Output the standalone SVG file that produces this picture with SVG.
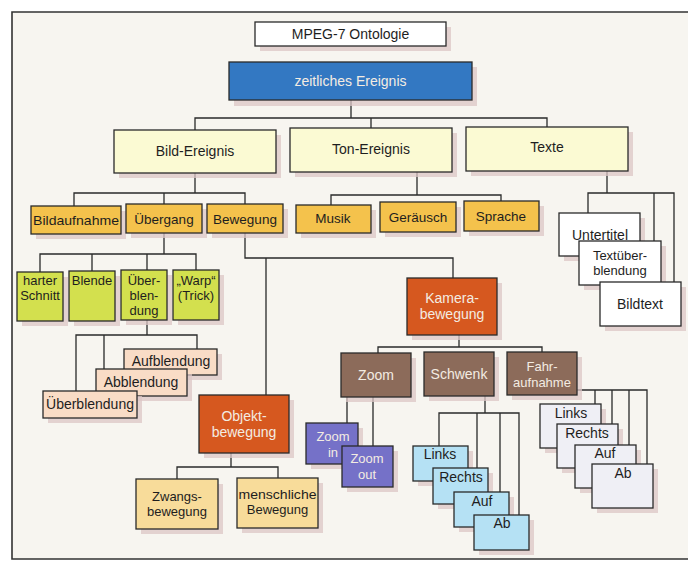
<svg xmlns="http://www.w3.org/2000/svg" width="688" height="561" viewBox="0 0 688 561">
  <style>
    text { font-family: "Liberation Sans", Arial, sans-serif; font-size: 14px; fill: #1e1e1e; text-anchor: middle; dominant-baseline: central; }
    .sm { font-size: 13.5px; }
    .ml { font-size: 13px; }
    .lt { fill: #f3ece2; }
    .box { stroke: #2a2a2a; stroke-width: 1.3; }
    .sh { fill: #dcc6c6; opacity: 0.75; }
    .white { fill: #ffffff; }
    .blue { fill: #3378c2; }
    .cream { fill: #fbfad3; }
    .orange { fill: #f4c24c; }
    .green { fill: #d3e04e; }
    .peach { fill: #f9dcc6; }
    .rust { fill: #d6581f; }
    .brown { fill: #8c6b5a; }
    .violet { fill: #7571c8; }
    .sky { fill: #b5e1f4; }
    .pale { fill: #efeff5; }
    .sand { fill: #f8dc9a; }
    #connectors path { fill: none; stroke: #2a2a2a; stroke-width: 1.3; }
  </style>

  <!-- page and frame -->
  <rect x="0" y="0" width="688" height="561" fill="#ffffff"/>
  <rect x="12" y="12" width="690" height="547" fill="#f7f5f0"/>
  <path d="M688,12 H12 V559 H688" fill="none" stroke="#333" stroke-width="1.6"/>

  <!-- connectors -->
  <g id="connectors">
    <path d="M351,100 V118 M195,130 V118 H547 V127 M371,118 V128"/>
    <path d="M195,173 V193 M74,206 V193 H245 V204 M164,193 V204"/>
    <path d="M417,172 V195 M331,205 V195 H501 V201"/>
    <path d="M607,171 V193 M588,213 V193 H674 V282 M654,193 V241"/>
    <path d="M164,233 V254 M40,272 V254 H196 V270 M92,254 V271 M147,254 V270"/>
    <path d="M147,320 V335 M76,391 V335 H197 V349 M104,335 V369"/>
    <path d="M245,233 V258 H453 V278 M266,258 V395"/>
    <path d="M231,453 V467 M177,479 V467 H278 V478"/>
    <path d="M459,335 V347 M378,353 V347 H542 V352"/>
    <path d="M347,397 V423 M373,397 V446"/>
    <path d="M485,396 V413 M439,446 V413 H519 V515 M477,413 V468 M500,413 V492"/>
    <path d="M570,390 H647 V464 M595,390 V404 M612,390 V424 M629,390 V445"/>
  </g>

  <g id="mpeg7">
    <rect class="sh" x="260" y="27" width="191" height="24"/>
    <rect class="box white" x="255" y="22" width="191" height="24"/>
    <text x="350.5" y="34">MPEG-7 Ontologie</text>
  </g>

  <g id="zeitliches-ereignis">
    <rect class="sh" x="234" y="67" width="243" height="39"/>
    <rect class="box blue" x="229" y="62" width="243" height="38"/>
    <text class="lt" x="350.5" y="81">zeitliches Ereignis</text>
  </g>

  <g id="bild-ereignis">
    <rect class="sh" x="119" y="135" width="162" height="43"/>
    <rect class="box cream" x="114" y="130" width="162" height="43"/>
    <text x="195" y="151">Bild-Ereignis</text>
  </g>
  <g id="ton-ereignis">
    <rect class="sh" x="295" y="133" width="162" height="44"/>
    <rect class="box cream" x="290" y="128" width="162" height="44"/>
    <text x="371" y="149">Ton-Ereignis</text>
  </g>
  <g id="texte">
    <rect class="sh" x="471" y="132" width="162" height="44"/>
    <rect class="box cream" x="466" y="127" width="162" height="44"/>
    <text x="547" y="147">Texte</text>
  </g>

  <g id="bildaufnahme">
    <rect class="sh" x="36" y="211" width="90" height="28"/>
    <rect class="box orange" x="31" y="206" width="90" height="28"/>
    <text class="sm" x="76" y="220" textLength="86" lengthAdjust="spacingAndGlyphs">Bildaufnahme</text>
  </g>
  <g id="uebergang">
    <rect class="sh" x="131" y="209" width="76" height="29"/>
    <rect class="box orange" x="126" y="204" width="76" height="29"/>
    <text class="sm" x="164" y="219">Übergang</text>
  </g>
  <g id="bewegung">
    <rect class="sh" x="212" y="209" width="76" height="29"/>
    <rect class="box orange" x="207" y="204" width="76" height="29"/>
    <text class="sm" x="245" y="219">Bewegung</text>
  </g>
  <g id="musik">
    <rect class="sh" x="301" y="210" width="75" height="28"/>
    <rect class="box orange" x="296" y="205" width="75" height="28"/>
    <text class="sm" x="333" y="218">Musik</text>
  </g>
  <g id="geraeusch">
    <rect class="sh" x="385" y="207" width="76" height="30"/>
    <rect class="box orange" x="380" y="202" width="76" height="30"/>
    <text class="sm" x="418" y="217">Geräusch</text>
  </g>
  <g id="sprache">
    <rect class="sh" x="469" y="206" width="75" height="30"/>
    <rect class="box orange" x="464" y="201" width="75" height="30"/>
    <text class="sm" x="501" y="216">Sprache</text>
  </g>

  <g id="untertitel">
    <rect class="sh" x="564" y="218" width="81" height="43"/>
    <rect class="box white" x="559" y="213" width="81" height="43"/>
    <text x="600" y="235">Untertitel</text>
  </g>
  <g id="textueberblendung">
    <rect class="sh" x="584" y="246" width="82" height="44"/>
    <rect class="box white" x="579" y="241" width="82" height="44"/>
    <text class="ml" x="620" y="255">Textüber-</text>
    <text class="ml" x="620" y="270">blendung</text>
  </g>
  <g id="bildtext">
    <rect class="sh" x="605" y="287" width="81" height="44"/>
    <rect class="box white" x="600" y="282" width="81" height="44"/>
    <text x="640" y="304">Bildtext</text>
  </g>

  <g id="harter-schnitt">
    <rect class="sh" x="22" y="277" width="46" height="49"/>
    <rect class="box green" x="17" y="272" width="46" height="49"/>
    <text class="ml" x="40" y="280">harter</text>
    <text class="ml" x="40" y="295">Schnitt</text>
  </g>
  <g id="blende">
    <rect class="sh" x="74" y="276" width="46" height="50"/>
    <rect class="box green" x="69" y="271" width="46" height="50"/>
    <text class="ml" x="92" y="280">Blende</text>
  </g>
  <g id="ueber-blendung">
    <rect class="sh" x="126" y="275" width="46" height="50"/>
    <rect class="box green" x="121" y="270" width="46" height="50"/>
    <text class="ml" x="144" y="280">Über-</text>
    <text class="ml" x="144" y="295">blen-</text>
    <text class="ml" x="144" y="310">dung</text>
  </g>
  <g id="warp">
    <rect class="sh" x="178" y="275" width="46" height="50"/>
    <rect class="box green" x="173" y="270" width="46" height="50"/>
    <text class="ml" x="196" y="280">„Warp“</text>
    <text class="ml" x="196" y="295">(Trick)</text>
  </g>

  <g id="aufblendung">
    <rect class="sh" x="129" y="354" width="93" height="26"/>
    <rect class="box peach" x="124" y="349" width="93" height="26"/>
    <text x="171" y="361">Aufblendung</text>
  </g>
  <g id="abblendung">
    <rect class="sh" x="101" y="374" width="91" height="27"/>
    <rect class="box peach" x="96" y="369" width="91" height="27"/>
    <text x="141" y="382">Abblendung</text>
  </g>
  <g id="ueberblendung">
    <rect class="sh" x="48" y="396" width="94" height="27"/>
    <rect class="box peach" x="43" y="391" width="94" height="27"/>
    <text x="90" y="404">Überblendung</text>
  </g>

  <g id="kamerabewegung">
    <rect class="sh" x="412" y="283" width="90" height="57"/>
    <rect class="box rust" x="407" y="278" width="90" height="57"/>
    <text class="lt" x="452" y="298">Kamera-</text>
    <text class="lt" x="452" y="314">bewegung</text>
  </g>
  <g id="objektbewegung">
    <rect class="sh" x="204" y="400" width="90" height="58"/>
    <rect class="box rust" x="199" y="395" width="90" height="58"/>
    <text class="lt" x="244" y="416">Objekt-</text>
    <text class="lt" x="244" y="432">bewegung</text>
  </g>

  <g id="zwangsbewegung">
    <rect class="sh" x="141" y="484" width="82" height="50"/>
    <rect class="box sand" x="136" y="479" width="82" height="50"/>
    <text class="ml" x="177" y="496">Zwangs-</text>
    <text class="ml" x="177" y="511">bewegung</text>
  </g>
  <g id="menschliche-bewegung">
    <rect class="sh" x="242" y="483" width="81" height="50"/>
    <rect class="box sand" x="237" y="478" width="81" height="50"/>
    <text class="ml" x="277.5" y="494" textLength="78" lengthAdjust="spacingAndGlyphs">menschliche</text>
    <text class="ml" x="277.5" y="509">Bewegung</text>
  </g>

  <g id="zoom">
    <rect class="sh" x="346" y="358" width="70" height="44"/>
    <rect class="box brown" x="341" y="353" width="70" height="44"/>
    <text class="lt" x="376" y="375">Zoom</text>
  </g>
  <g id="schwenk">
    <rect class="sh" x="429" y="357" width="70" height="44"/>
    <rect class="box brown" x="424" y="352" width="70" height="44"/>
    <text class="lt" x="459" y="374">Schwenk</text>
  </g>
  <g id="fahraufnahme">
    <rect class="sh" x="512" y="357" width="70" height="43"/>
    <rect class="box brown" x="507" y="352" width="70" height="43"/>
    <text class="lt ml" x="542" y="366">Fahr-</text>
    <text class="lt ml" x="542" y="382">aufnahme</text>
  </g>

  <g id="zoom-in">
    <rect class="sh" x="311" y="428" width="52" height="41"/>
    <rect class="box violet" x="306" y="423" width="52" height="41"/>
    <text class="lt ml" x="333" y="436">Zoom</text>
    <text class="lt ml" x="333" y="452">in</text>
  </g>
  <g id="zoom-out">
    <rect class="sh" x="347" y="451" width="51" height="41"/>
    <rect class="box violet" x="342" y="446" width="51" height="41"/>
    <text class="lt ml" x="367" y="458">Zoom</text>
    <text class="lt ml" x="367" y="474">out</text>
  </g>

  <g id="schwenk-links">
    <rect class="sh" x="418" y="451" width="55" height="35"/>
    <rect class="box sky" x="413" y="446" width="55" height="35"/>
    <text x="440" y="454">Links</text>
  </g>
  <g id="schwenk-rechts">
    <rect class="sh" x="438" y="473" width="55" height="36"/>
    <rect class="box sky" x="433" y="468" width="55" height="36"/>
    <text x="461" y="477">Rechts</text>
  </g>
  <g id="schwenk-auf">
    <rect class="sh" x="459" y="497" width="55" height="35"/>
    <rect class="box sky" x="454" y="492" width="55" height="35"/>
    <text x="482" y="501">Auf</text>
  </g>
  <g id="schwenk-ab">
    <rect class="sh" x="479" y="520" width="55" height="35"/>
    <rect class="box sky" x="474" y="515" width="55" height="35"/>
    <text x="502" y="523">Ab</text>
  </g>

  <g id="fahr-links">
    <rect class="sh" x="545" y="409" width="61" height="44"/>
    <rect class="box pale" x="540" y="404" width="61" height="44"/>
    <text x="571" y="413">Links</text>
  </g>
  <g id="fahr-rechts">
    <rect class="sh" x="562" y="429" width="61" height="44"/>
    <rect class="box pale" x="557" y="424" width="61" height="44"/>
    <text x="587" y="433">Rechts</text>
  </g>
  <g id="fahr-auf">
    <rect class="sh" x="580" y="450" width="61" height="43"/>
    <rect class="box pale" x="575" y="445" width="61" height="43"/>
    <text x="605" y="453">Auf</text>
  </g>
  <g id="fahr-ab">
    <rect class="sh" x="597" y="469" width="61" height="44"/>
    <rect class="box pale" x="592" y="464" width="61" height="44"/>
    <text x="623" y="473">Ab</text>
  </g>
</svg>
